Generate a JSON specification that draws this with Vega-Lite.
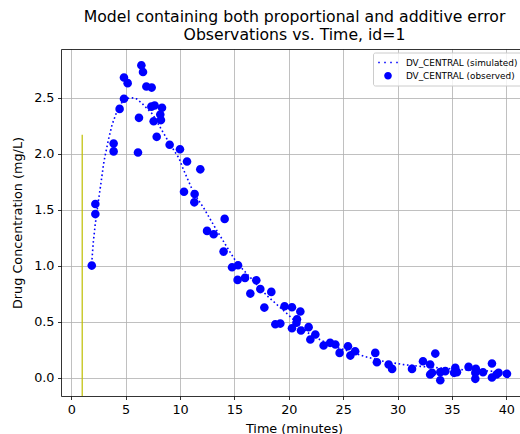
{
  "$schema": "https://vega.github.io/schema/vega-lite/v6.json",
  "autosize": {"type": "none"},
  "padding": {"left": 61, "top": 49, "right": 0, "bottom": 38},
  "width": 459,
  "height": 347,
  "background": "white",
  "config": {
    "view": {"stroke": null},
    "font": "DejaVu Sans",
    "axis": {
      "labelFont": "DejaVu Sans", "titleFont": "DejaVu Sans",
      "labelFontSize": 12.8, "titleFontSize": 12.8, "labelColor": "black", "titleColor": "black",
      "titleFontWeight": "normal", "domainColor": "black", "domainWidth": 0.8,
      "tickColor": "black", "tickWidth": 0.8, "tickSize": 3.5, "labelPadding": 3.5,
      "gridColor": "#b0b0b0", "gridWidth": 0.8, "gridOpacity": 1
    }
  },
  "title": {
    "text": ["Model containing both proportional and additive error", "Observations vs. Time, id=1"],
    "font": "DejaVu Sans", "fontSize": 15.7, "fontWeight": "normal", "color": "black",
    "anchor": "middle", "dx": 4, "offset": 5.5, "lineHeight": 17.5
  },
  "datasets": {
    "dose": [{"t": 1, "lo": -0.165, "hi": 2.17}],
    "sim": [
      {"t": 1.85, "c": 0.98}, {"t": 2.0, "c": 1.19}, {"t": 2.2, "c": 1.37}, {"t": 2.45, "c": 1.55},
      {"t": 2.7, "c": 1.72}, {"t": 3.0, "c": 1.93}, {"t": 3.4, "c": 2.12}, {"t": 3.75, "c": 2.26},
      {"t": 4.2, "c": 2.38}, {"t": 4.6, "c": 2.45}, {"t": 5.0, "c": 2.49}, {"t": 5.5, "c": 2.5},
      {"t": 6.0, "c": 2.49}, {"t": 6.5, "c": 2.45}, {"t": 7.0, "c": 2.4}, {"t": 7.5, "c": 2.35},
      {"t": 8.2, "c": 2.23}, {"t": 9.1, "c": 2.08}, {"t": 9.9, "c": 1.96}, {"t": 10.3, "c": 1.86},
      {"t": 11.25, "c": 1.65}, {"t": 12.2, "c": 1.51}, {"t": 13.4, "c": 1.31}, {"t": 14.6, "c": 1.12},
      {"t": 15.25, "c": 1.02}, {"t": 16.5, "c": 0.89}, {"t": 18.0, "c": 0.73}, {"t": 19.5, "c": 0.6},
      {"t": 20.75, "c": 0.49}, {"t": 22.0, "c": 0.38}, {"t": 24.1, "c": 0.28}, {"t": 26.9, "c": 0.19},
      {"t": 28.7, "c": 0.145}, {"t": 30.6, "c": 0.115}, {"t": 32.1, "c": 0.1}, {"t": 34.0, "c": 0.085},
      {"t": 36.0, "c": 0.07}, {"t": 38.0, "c": 0.06}, {"t": 40.0, "c": 0.05}
    ],
    "obs": [
      {"t": 1.88, "c": 1.0}, {"t": 2.21, "c": 1.55}, {"t": 2.21, "c": 1.46}, {"t": 3.89, "c": 2.09},
      {"t": 3.89, "c": 2.02}, {"t": 4.44, "c": 2.4}, {"t": 4.84, "c": 2.49}, {"t": 4.84, "c": 2.68},
      {"t": 5.18, "c": 2.63}, {"t": 6.13, "c": 2.01}, {"t": 6.22, "c": 2.32}, {"t": 6.44, "c": 2.79},
      {"t": 6.59, "c": 2.73}, {"t": 6.9, "c": 2.6}, {"t": 7.39, "c": 2.59}, {"t": 7.36, "c": 2.42},
      {"t": 7.66, "c": 2.43}, {"t": 8.34, "c": 2.41}, {"t": 8.18, "c": 2.35}, {"t": 8.24, "c": 2.3},
      {"t": 7.57, "c": 2.29}, {"t": 7.85, "c": 2.15}, {"t": 9.04, "c": 2.08}, {"t": 9.99, "c": 2.04},
      {"t": 10.64, "c": 1.93}, {"t": 11.86, "c": 1.86}, {"t": 10.36, "c": 1.66}, {"t": 11.34, "c": 1.64},
      {"t": 11.31, "c": 1.565}, {"t": 14.1, "c": 1.417}, {"t": 12.48, "c": 1.31}, {"t": 13.09, "c": 1.28},
      {"t": 14.0, "c": 1.125}, {"t": 14.78, "c": 0.985}, {"t": 15.33, "c": 1.003}, {"t": 15.29, "c": 0.872},
      {"t": 15.97, "c": 0.89}, {"t": 17.01, "c": 0.869}, {"t": 17.38, "c": 0.79}, {"t": 16.46, "c": 0.75},
      {"t": 18.39, "c": 0.765}, {"t": 17.75, "c": 0.625}, {"t": 19.61, "c": 0.637}, {"t": 20.29, "c": 0.628},
      {"t": 18.76, "c": 0.476}, {"t": 19.22, "c": 0.482}, {"t": 20.29, "c": 0.44}, {"t": 21.06, "c": 0.59},
      {"t": 20.75, "c": 0.52}, {"t": 20.7, "c": 0.49}, {"t": 21.12, "c": 0.42}, {"t": 21.82, "c": 0.45},
      {"t": 22.44, "c": 0.384}, {"t": 21.98, "c": 0.34}, {"t": 23.2, "c": 0.286}, {"t": 23.8, "c": 0.31},
      {"t": 24.28, "c": 0.295}, {"t": 24.67, "c": 0.22}, {"t": 25.44, "c": 0.28}, {"t": 25.66, "c": 0.196},
      {"t": 26.1, "c": 0.235}, {"t": 27.95, "c": 0.22}, {"t": 28.1, "c": 0.137}, {"t": 29.18, "c": 0.116},
      {"t": 29.5, "c": 0.077}, {"t": 31.33, "c": 0.077}, {"t": 32.34, "c": 0.146}, {"t": 33.47, "c": 0.214},
      {"t": 33.0, "c": 0.116}, {"t": 33.17, "c": 0.042}, {"t": 33.0, "c": 0.027}, {"t": 33.93, "c": -0.024},
      {"t": 33.93, "c": 0.048}, {"t": 34.39, "c": 0.057}, {"t": 35.31, "c": 0.086}, {"t": 35.46, "c": 0.048},
      {"t": 35.2, "c": 0.042}, {"t": 36.53, "c": 0.095}, {"t": 37.15, "c": 0.042}, {"t": 37.15, "c": -0.012},
      {"t": 37.2, "c": 0.077}, {"t": 37.86, "c": 0.047}, {"t": 38.68, "c": 0.125}, {"t": 38.68, "c": 0.0},
      {"t": 39.29, "c": 0.042}, {"t": 39.1, "c": 0.027}, {"t": 40.06, "c": 0.033}
    ]
  },
  "layer": [
    {
      "data": {"name": "dose"},
      "mark": {"type": "rule", "color": "#bfbf00", "strokeWidth": 1.2, "clip": true},
      "encoding": {
        "x": {"field": "t", "type": "quantitative", "scale": {"domain": [-0.95, 41.26], "nice": false, "zero": false},
              "axis": {"orient": "top", "labels": false, "ticks": false, "grid": false, "title": null}},
        "y": {"field": "lo", "type": "quantitative", "scale": {"domain": [-0.165, 2.935], "nice": false, "zero": false},
              "axis": {"title": "Drug Concentration (mg/L)", "values": [0, 0.5, 1, 1.5, 2, 2.5], "format": ".1f", "grid": true, "titlePadding": 9}},
        "y2": {"field": "hi"}
      }
    },
    {
      "data": {"name": "sim"},
      "mark": {"type": "line", "color": "blue", "strokeWidth": 1.6, "strokeDash": [1.6, 2.6], "strokeCap": "butt", "clip": true},
      "encoding": {
        "x": {"field": "t", "type": "quantitative",
              "axis": {"orient": "bottom", "title": "Time (minutes)", "values": [0, 5, 10, 15, 20, 25, 30, 35, 40], "grid": true,
                       "titleX": 233, "titleY": 36, "titleBaseline": "alphabetic"}},
        "y": {"field": "c", "type": "quantitative"}
      }
    },
    {
      "data": {"name": "obs"},
      "transform": [{"calculate": "'DV_CENTRAL (observed)'", "as": "series"}],
      "mark": {"type": "point", "filled": true, "color": "blue", "size": 185, "opacity": 1, "clip": true},
      "encoding": {
        "x": {"field": "t", "type": "quantitative", "axis": null},
        "y": {"field": "c", "type": "quantitative"},
        "shape": {
          "field": "series", "type": "nominal",
          "scale": {
            "domain": ["DV_CENTRAL (simulated)", "DV_CENTRAL (observed)"],
            "range": [
              "M-1.63,-0.13h0.26v0.26h-0.26Z M-0.63,-0.13h0.26v0.26h-0.26Z M0.37,-0.13h0.26v0.26h-0.26Z M1.37,-0.13h0.26v0.26h-0.26Z",
              "M-0.633,0A0.633,0.633 0 1,0 0.633,0A0.633,0.633 0 1,0 -0.633,0Z"
            ]
          },
          "legend": {
            "title": null, "orient": "none", "legendX": 312, "legendY": 3.5,
            "padding": 4, "fillColor": "rgba(255,255,255,0.8)", "strokeColor": "#cccccc", "cornerRadius": 2,
            "symbolSize": 144, "symbolOffset": 5, "labelOffset": 11.9, "rowPadding": 2.3,
            "symbolFillColor": "blue", "symbolStrokeWidth": 0, "symbolOpacity": 1,
            "labelFont": "DejaVu Sans", "labelFontSize": 8.9, "labelColor": "black"
          }
        }
      }
    }
  ],
  "resolve": {"axis": {"x": "independent"}}
}
